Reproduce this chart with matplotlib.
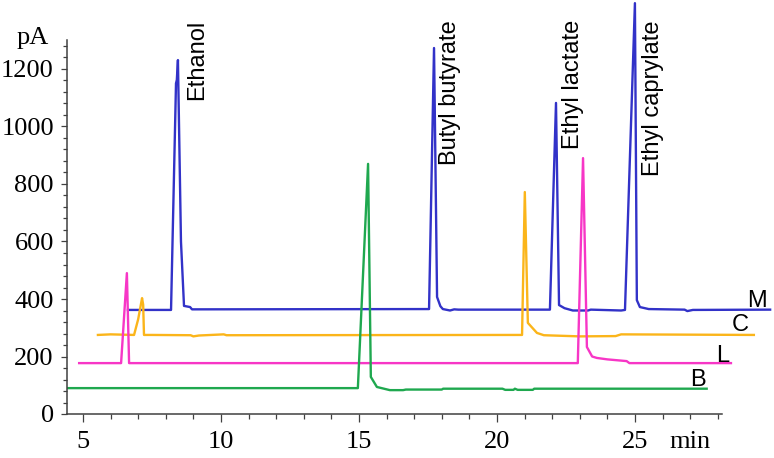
import matplotlib
matplotlib.use("Agg")
from matplotlib import pyplot as plt

# chromatogram traces: time (min) and signal (pA)
m_time = [6.63, 8.19, 8.37, 8.40, 8.44, 8.55, 8.66, 8.88, 8.95, 17.54, 17.72, 17.83, 17.95, 18.04, 18.3, 18.45,
          18.6, 21.92, 22.14, 22.25, 22.45, 22.75, 23.3, 23.4, 24.5, 24.64, 25.0, 25.07, 25.18, 25.5, 26.8, 26.9,
          27.1, 29.9]
m_signal = [362, 362, 1150, 1162, 1231, 600, 376, 372, 364, 365, 1273, 407, 375, 365, 360, 364,
            363, 363, 1082, 379, 368, 360, 360, 363, 360, 362, 1429, 396, 372, 365, 363, 358,
            362, 363]

c_time = [5.54, 6.0, 6.85, 7.0, 7.14, 7.18, 7.21, 7.5, 8.9, 9.0, 9.2, 10.1, 10.2, 20.91, 21.01, 21.12,
          21.45, 21.7, 23.0, 24.3, 24.5, 29.31]
c_signal = [275, 277, 275, 330, 403, 380, 275, 275, 274, 270, 273, 277, 274, 275, 772, 317,
            282, 274, 270, 271, 277, 275]

l_time = [4.86, 6.38, 6.59, 6.67, 22.93, 23.12, 23.26, 23.45, 23.62, 24.0, 24.7, 24.8, 28.48]
l_signal = [177, 177, 490, 177, 177, 890, 233, 200, 195, 190, 184, 177, 177]

b_time = [4.42, 14.96, 15.33, 15.43, 15.65, 16.12, 16.6, 16.7, 18.0, 18.05, 20.2, 20.3, 20.6, 20.65, 20.75,
          20.8, 21.3, 21.35, 27.6]
b_signal = [90, 90, 870, 129, 94, 83, 83, 85, 85, 88, 88, 84, 84, 88, 84,
            84, 84, 88, 88]

peak_names = ["Ethanol", "Butyl butyrate", "Ethyl lactate", "Ethyl caprylate"]
peak_name_x = [9.13, 18.30, 22.75, 25.65]

trace_names = ["M", "C", "L", "B"]
trace_name_x = [29.42, 28.8, 28.19, 27.28]
trace_name_y = [393, 310, 202, 118]

x_major = [5, 10, 15, 20, 25]
y_major = [0, 200, 400, 600, 800, 1000, 1200]

colors = ["#3232c8", "#fbb51a", "#f736c6", "#1fa84f"]

serif = "Liberation Serif"
sans = "Liberation Sans"

fig = plt.figure(figsize=(7.74, 4.58), dpi=100)
ax = fig.add_axes([67 / 774, 44 / 458, 707 / 774, 414 / 458])

for t, s, col in zip([m_time, c_time, l_time, b_time], [m_signal, c_signal, l_signal, b_signal], colors):
    ax.plot(t, s, color=col, lw=1.7, solid_joinstyle="round")

for name, x in zip(peak_names, peak_name_x):
    ax.text(x, 1370, name, rotation=90, ha="center", va="top", fontsize=17, family=sans)

for name, x, y in zip(trace_names, trace_name_x, trace_name_y):
    ax.text(x, y, name, ha="center", va="center", fontsize=17, family=sans)

ax.set_xlim(4.42, 30.04)
ax.set_ylim(0, 1440)
ax.spines["top"].set_visible(False)
ax.spines["right"].set_visible(False)
for side in ["left", "bottom"]:
    ax.spines[side].set_color("#404040")
    ax.spines[side].set_linewidth(1.1)
ax.spines["left"].set_bounds(0, 1301)
ax.spines["bottom"].set_bounds(4.42, 28.15)

ax.set_xticks(x_major)
ax.set_xticks([v for v in range(6, 29) if v % 5], minor=True)
ax.set_yticks(y_major)
ax.set_yticks([v for v in range(40, 1300, 40) if v % 200], minor=True)
ax.tick_params(axis="x", which="major", length=6, width=0.9, pad=6, color="#404040",
               labelsize=19, labelfontfamily=serif)
ax.tick_params(axis="x", which="minor", length=3.5, width=0.9, color="#404040")
ax.tick_params(axis="y", which="major", length=4.5, width=0.9, pad=5, color="#404040",
               labelsize=19, labelfontfamily=serif)
ax.tick_params(axis="y", which="minor", length=3, width=0.9, color="#404040")

ax.annotate("min", xy=(27.0, 0), xycoords=("data", "axes fraction"), xytext=(0, -12),
            textcoords="offset points", ha="center", va="top", fontsize=19, family=serif)
fig.text(17 / 774, 1 - 38 / 458, "pA", ha="left", va="center", fontsize=19, family=serif)

fig.savefig("out.png", dpi=100)
